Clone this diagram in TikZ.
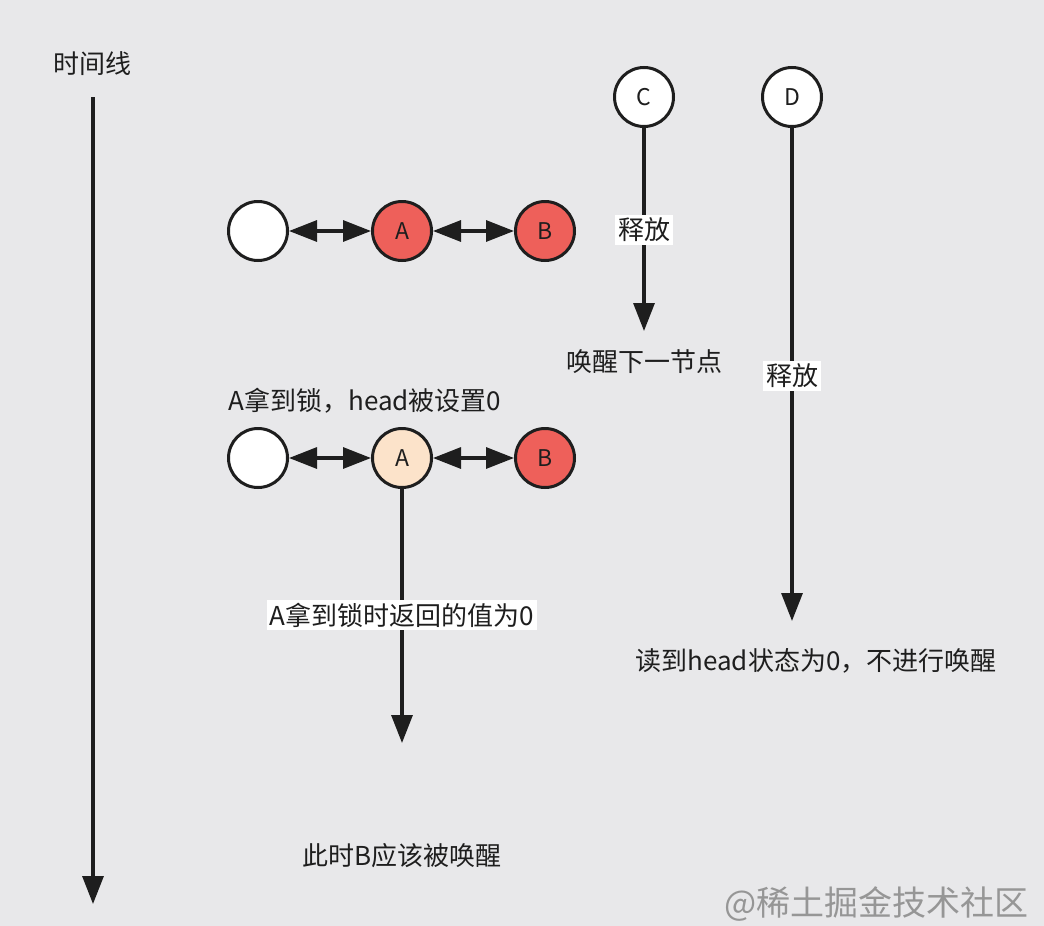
\documentclass[tikz,border=0pt]{standalone}
\usepackage{fontspec}
\setmainfont{Noto Sans CJK SC}
\usetikzlibrary{arrows.meta}
\definecolor{bg}{RGB}{232,232,234}
\definecolor{redfill}{RGB}{238,96,90}
\definecolor{peach}{RGB}{252,227,202}
\definecolor{ink}{RGB}{30,30,30}
\definecolor{wm}{RGB}{150,150,150}
\tikzset{
  nd/.style={circle, draw=ink, line width=3pt, minimum size=59pt, inner sep=0pt, font=\fontsize{23}{27}\selectfont, text=ink},
  wnode/.style={nd, fill=white},
  rnode/.style={nd, fill=redfill},
  pnode/.style={nd, fill=peach},
  conn/.style={draw=ink, line width=3.2pt, -{Triangle[length=28pt,width=21pt]}},
  dconn/.style={draw=ink, line width=3.2pt, {Triangle[length=28pt,width=21pt]}-{Triangle[length=28pt,width=21pt]}},
  lbl/.style={font=\fontsize{26}{30}\selectfont, text=ink, inner sep=2pt},
  wlbl/.style={lbl, fill=white, inner sep=3pt}
}
\begin{document}
\begin{tikzpicture}[x=1pt,y=-1pt]
\fill[bg] (0,0) rectangle (1044,926);
\useasboundingbox (0,0) rectangle (1044,926);

% timeline
\node[lbl] (tl) at (92,64) {时间线};
\coordinate (tls) at (93,97);
\coordinate (tle) at (93,904);
\draw[conn] (tls) -- (tle);

% row 1
\node[wnode] (w1) at (258,231) {};
\node[rnode] (a1) at (402,231) {A};
\node[rnode] (b1) at (545,231) {B};
\draw[dconn] (w1) -- (a1);
\draw[dconn] (a1) -- (b1);

% C and D
\node[wnode] (c) at (644,97) {C};
\node[wnode] (d) at (792,97) {D};
\coordinate (ce) at (644,331);
\coordinate (de) at (792,621);
\draw[conn] (c) -- (ce);
\draw[conn] (d) -- (de);
\node[wlbl] (crel) at (644,230) {释放};
\node[wlbl] (drel) at (792,376) {释放};
\node[lbl] (wake) at (644,362) {唤醒下一节点};

% row 2
\node[lbl] (alock) at (365,401) {A拿到锁，head被设置0};
\node[wnode] (w2) at (258,458) {};
\node[pnode] (a2) at (402,458) {A};
\node[rnode] (b2) at (545,458) {B};
\draw[dconn] (w2) -- (a2);
\draw[dconn] (a2) -- (b2);
\coordinate (ae) at (402,743);
\draw[conn] (a2) -- (ae);
\node[wlbl] (aret) at (402,615) {A拿到锁时返回的值为0};

\node[lbl] (dread) at (816,661) {读到head状态为0，不进行唤醒};
\node[lbl] (bwake) at (402,856) {此时B应该被唤醒};

\node[font=\fontsize{34}{38}\selectfont, text=wm, anchor=east] (wmk) at (1032,904) {@稀土掘金技术社区};
\end{tikzpicture}
\end{document}
